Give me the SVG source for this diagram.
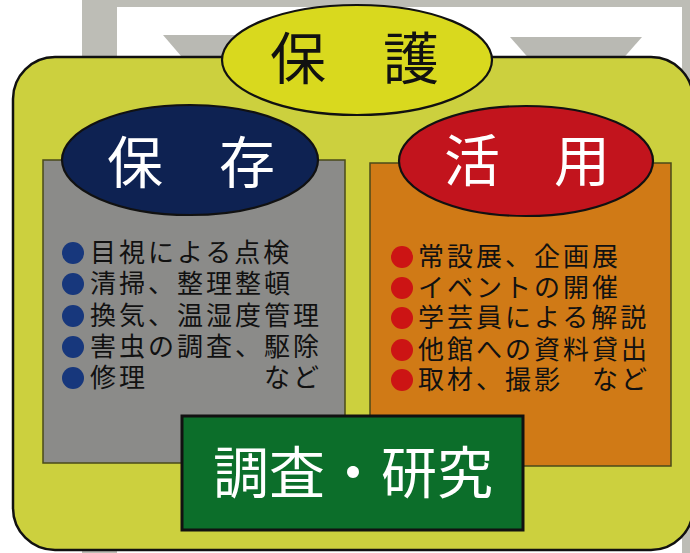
<svg xmlns="http://www.w3.org/2000/svg" width="690" height="553" viewBox="0 0 690 553">
  <style>
    text { font-family: "Noto Sans CJK JP", "Noto Sans CJK SC", sans-serif; }
    .title { font-size: 56px; text-anchor: middle; }
    .item { font-size: 26px; letter-spacing: 3px; fill: #111; }
    .ell { stroke: #111; stroke-width: 2.2; }
    .box { stroke: #4a4a1a; stroke-width: 1.5; }
    .arrow { fill: #b9b9b3; }
  </style>
  <rect x="0" y="0" width="690" height="553" fill="#ffffff"/>
  <g id="frame">
    <rect x="82" y="0" width="620" height="553" fill="#bdbdb6"/>
    <rect x="117" y="7" width="565" height="546" fill="#ffffff"/>
  </g>
  <g id="connectors">
    <polygon class="arrow" points="163,35 295,35 229,112"/>
    <polygon class="arrow" points="510,37 642,37 576,112"/>
  </g>
  <g id="main">
    <rect x="13" y="57" width="680" height="493" rx="42" ry="42" fill="#ccd03e" stroke="#111" stroke-width="2.5"/>
  </g>
  <g id="hozon-box">
    <rect class="box" x="43" y="160" width="302" height="303" fill="#8b8b89"/>
    <circle cx="73" cy="253" r="11" fill="#17377c"/>
    <circle cx="73" cy="284" r="11" fill="#17377c"/>
    <circle cx="73" cy="316" r="11" fill="#17377c"/>
    <circle cx="73" cy="347" r="11" fill="#17377c"/>
    <circle cx="73" cy="378" r="11" fill="#17377c"/>
    <text class="item" x="90" y="262">目視による点検</text>
    <text class="item" x="90" y="293">清掃、整理整頓</text>
    <text class="item" x="90" y="325">換気、温湿度管理</text>
    <text class="item" x="90" y="356">害虫の調査、駆除</text>
    <text class="item" x="90" y="387">修理　　　　など</text>
  </g>
  <g id="katsuyo-box">
    <rect class="box" x="370" y="163" width="301" height="303" fill="#d07a16"/>
    <circle cx="402" cy="257" r="11" fill="#cc1414"/>
    <circle cx="402" cy="288" r="11" fill="#cc1414"/>
    <circle cx="402" cy="318" r="11" fill="#cc1414"/>
    <circle cx="402" cy="350" r="11" fill="#cc1414"/>
    <circle cx="402" cy="380" r="11" fill="#cc1414"/>
    <text class="item" x="418" y="266">常設展、企画展</text>
    <text class="item" x="418" y="297">イベントの開催</text>
    <text class="item" x="418" y="327">学芸員による解説</text>
    <text class="item" x="418" y="359">他館への資料貸出</text>
    <text class="item" x="418" y="389">取材、撮影　など</text>
  </g>
  <g id="hogo">
    <ellipse class="ell" cx="357" cy="60" rx="135" ry="55" fill="#d9d91e"/>
    <text class="title" x="298" y="79" font-size="54" fill="#111">保</text>
    <text class="title" x="411" y="79" font-size="54" fill="#111">護</text>
  </g>
  <g id="hozon">
    <ellipse class="ell" cx="190" cy="160" rx="128" ry="55" fill="#0e2252"/>
    <text class="title" x="135" y="183" fill="#ffffff">保</text>
    <text class="title" x="247" y="183" fill="#ffffff">存</text>
  </g>
  <g id="katsuyo">
    <ellipse class="ell" cx="526" cy="161" rx="127" ry="55" fill="#c2141d"/>
    <text class="title" x="472" y="181" fill="#ffffff">活</text>
    <text class="title" x="582" y="181" fill="#ffffff">用</text>
  </g>
  <g id="chosa">
    <rect x="182" y="416" width="341" height="114" fill="#0c6e2a" stroke="#111" stroke-width="3"/>
    <text class="title" x="353" y="493" fill="#ffffff">調査・研究</text>
  </g>
</svg>
